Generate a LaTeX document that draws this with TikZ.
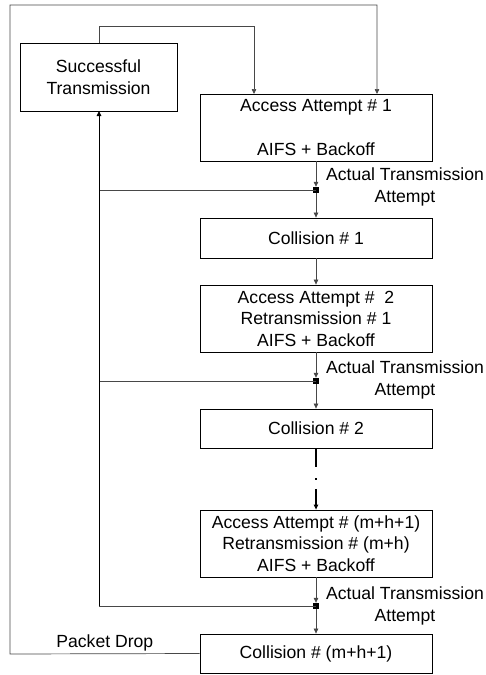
\documentclass[tikz,border=0pt]{standalone}
\usepackage{fontspec}
\setmainfont{Liberation Sans}
\usetikzlibrary{arrows.meta}
\begin{document}
\begin{tikzpicture}[x=1pt,y=-1pt,
  font=\fontsize{17.6}{21.5}\selectfont,
  box/.style={draw=black, line width=0.8pt, minimum width=232pt, align=center, inner sep=0pt},
  conn/.style={draw=black!72, line width=0.7pt},
  arr/.style={conn, -{Triangle[length=5pt,width=4.5pt]}},
  junc/.style={fill=black, minimum size=6pt, inner sep=0pt},
  lbl/.style={align=center, inner sep=0pt}]
\useasboundingbox (0,0) rectangle (486,675);

% boxes
\node[box, minimum width=157pt, minimum height=68pt] (succ) at (98.5,77) {Successful\\Transmission};
\node[box, minimum height=67pt] (a1) at (316,127.5) {Access Attempt \# 1\\[23pt]AIFS + Backoff};
\node[junc] (j1) at (316,190) {};
\node[box, minimum height=40pt] (c1) at (316,238) {Collision \# 1};
\node[box, minimum height=67pt] (a2) at (316,318.5) {Access Attempt \#\ \ 2\\Retransmission \# 1\\AIFS + Backoff};
\node[junc] (j2) at (316,381) {};
\node[box, minimum height=39pt] (c2) at (316,428.5) {Collision \# 2};
\node[box, minimum height=67pt] (a3) at (316,543.5) {Access Attempt \# (m+h+1)\\Retransmission \# (m+h)\\AIFS + Backoff};
\node[junc] (j3) at (316,606) {};
\node[box, minimum height=39pt] (c3) at (316,653.5) {Collision \# (m+h+1)};

% labels at junctions
\node[lbl] (t1) at (405,187) {Actual Transmission\\Attempt};
\node[lbl] (t2) at (405,380) {Actual Transmission\\Attempt};
\node[lbl] (t3) at (405,606) {Actual Transmission\\Attempt};

% main chain
\draw[arr] (a1) -- (j1);
\draw[arr] (j1) -- (c1);
\draw[arr] (c1) -- (a2);
\draw[arr] (a2) -- (j2);
\draw[arr] (j2) -- (c2);
\draw[arr, draw=black, line width=1.1pt, dash pattern=on 19pt off 11pt on 1.5pt off 9pt on 40pt] (c2) -- (a3);
\draw[arr] (a3) -- (j3);
\draw[arr] (j3) -- (c3);

% feedback to successful transmission
\coordinate (f1) at (99,190);
\coordinate (f2) at (99,381);
\coordinate (f3) at (99,606);
\coordinate (fs) at (99,111);
\draw[conn] (j1.center) -- (f1);
\draw[conn] (j2.center) -- (f2);
\draw[conn] (j3.center) -- (f3);
\draw[arr, draw=black, line width=1pt] (f3) -- (fs);

% successful -> access attempt 1
\coordinate (s0) at (99,43);
\coordinate (s1) at (254,94);
\draw[arr] (s0) -- (99,26) -| (s1);

% packet drop loop
\coordinate (o1) at (10,654);
\coordinate (o2) at (10,5);
\coordinate (o3) at (377,94);
\draw[arr] (c3.west) -- node[above, inner sep=2pt, pos=0.5] {Packet Drop} (o1) -- (o2) -| (o3);
\end{tikzpicture}
\end{document}
